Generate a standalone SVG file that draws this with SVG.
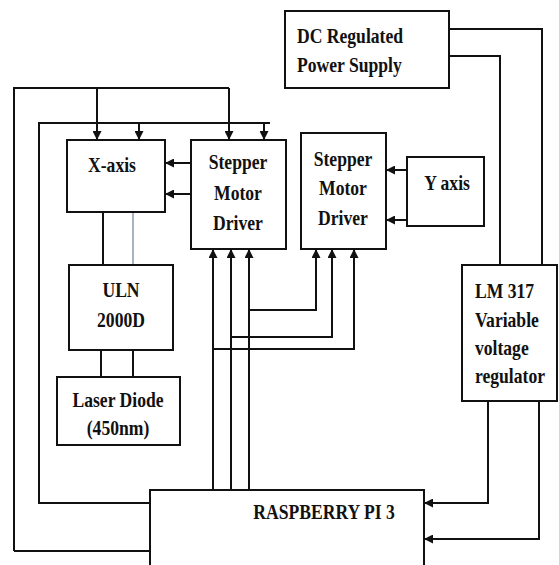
<svg xmlns="http://www.w3.org/2000/svg" width="559" height="565" viewBox="0 0 559 565">
<style>
.box{fill:#fff;stroke:#111;stroke-width:2}
.ln{fill:none;stroke:#111;stroke-width:2}
.t{font-family:"Liberation Serif","Times New Roman",serif;font-weight:bold;font-size:22px;fill:#111}
.m{text-anchor:middle}
</style>
<defs>
<marker id="ah" viewBox="0 0 10 10" refX="10" refY="5" markerWidth="10" markerHeight="9" markerUnits="userSpaceOnUse" orient="auto">
<path d="M0,0 L10,5 L0,10 z" fill="#111"/>
</marker>
</defs>
<rect width="559" height="565" fill="#fff"/>
<g id="connectors">
<path class="ln" d="M14,551 L14,88 L229,88"/>
<path class="ln" d="M97,88 L97,140" marker-end="url(#ah)"/>
<path class="ln" d="M229,88 L229,140" marker-end="url(#ah)"/>
<path class="ln" d="M150,503 L39,503 L39,123 L270,123"/>
<path class="ln" d="M139,123 L139,140" marker-end="url(#ah)"/>
<path class="ln" d="M264,123 L264,140" marker-end="url(#ah)"/>
<path class="ln" d="M14,551 L150,551"/>
<path class="ln" d="M191,163 L165,163" marker-end="url(#ah)"/>
<path class="ln" d="M191,194 L165,194" marker-end="url(#ah)"/>
<path class="ln" d="M103,212 L103,265"/>
<path fill="none" stroke="#8a9aa8" stroke-width="1.5" d="M133,212 L133,265"/>
<path class="ln" d="M101,350 L101,377"/>
<path class="ln" d="M133,350 L133,377"/>
<path class="ln" d="M213,490 L213,249" marker-end="url(#ah)"/>
<path class="ln" d="M231,490 L231,249" marker-end="url(#ah)"/>
<path class="ln" d="M249,490 L249,249" marker-end="url(#ah)"/>
<path class="ln" d="M249,310 L316,310 L316,249" marker-end="url(#ah)"/>
<path class="ln" d="M231,337 L332,337 L332,249" marker-end="url(#ah)"/>
<path class="ln" d="M213,349 L354,349 L354,249" marker-end="url(#ah)"/>
<path class="ln" d="M407,170 L386,170" marker-end="url(#ah)"/>
<path class="ln" d="M407,220 L386,220" marker-end="url(#ah)"/>
<path class="ln" d="M449,29 L542,29 L542,265"/>
<path class="ln" d="M449,56 L500,56 L500,265"/>
<path class="ln" d="M488,401 L488,503 L424,503" marker-end="url(#ah)"/>
<path class="ln" d="M539,401 L539,539 L424,539" marker-end="url(#ah)"/>
</g>
<g id="dc-supply">
<rect class="box" x="285" y="11" width="164" height="77"/>
<text class="t" transform="translate(297,43) scale(0.8,1)">DC Regulated</text>
<text class="t" transform="translate(297,72) scale(0.8,1)">Power Supply</text>
</g>
<g id="x-axis">
<rect class="box" x="67" y="140" width="98" height="72"/>
<text class="t m" transform="translate(112,172) scale(0.8,1)">X-axis</text>
</g>
<g id="stepper1">
<rect class="box" x="191" y="140" width="95" height="109"/>
<text class="t m" transform="translate(238,169) scale(0.8,1)">Stepper</text>
<text class="t m" transform="translate(238,200) scale(0.8,1)">Motor</text>
<text class="t m" transform="translate(238,230) scale(0.8,1)">Driver</text>
</g>
<g id="stepper2">
<rect class="box" x="301" y="133" width="85" height="116"/>
<text class="t m" transform="translate(343,166) scale(0.8,1)">Stepper</text>
<text class="t m" transform="translate(343,195) scale(0.8,1)">Motor</text>
<text class="t m" transform="translate(343,225) scale(0.8,1)">Driver</text>
</g>
<g id="y-axis">
<rect class="box" x="407" y="157" width="77" height="69"/>
<text class="t m" transform="translate(447,190) scale(0.8,1)">Y axis</text>
</g>
<g id="uln">
<rect class="box" x="69" y="265" width="104" height="85"/>
<text class="t m" transform="translate(121,297) scale(0.8,1)">ULN</text>
<text class="t m" transform="translate(121,327) scale(0.8,1)">2000D</text>
</g>
<g id="laser">
<rect class="box" x="57" y="377" width="123" height="68"/>
<text class="t m" transform="translate(118,407) scale(0.8,1)">Laser Diode</text>
<text class="t m" transform="translate(118,435) scale(0.8,1)">(450nm)</text>
</g>
<g id="lm317">
<rect class="box" x="462" y="265" width="95" height="136"/>
<text class="t" transform="translate(475,298) scale(0.8,1)">LM 317</text>
<text class="t" transform="translate(475,327) scale(0.8,1)">Variable</text>
<text class="t" transform="translate(475,355) scale(0.8,1)">voltage</text>
<text class="t" transform="translate(475,383) scale(0.8,1)">regulator</text>
</g>
<g id="raspberry">
<rect class="box" x="150" y="490" width="274" height="85"/>
<text class="t m" transform="translate(324,519) scale(0.8,1)">RASPBERRY PI 3</text>
</g>
</svg>
